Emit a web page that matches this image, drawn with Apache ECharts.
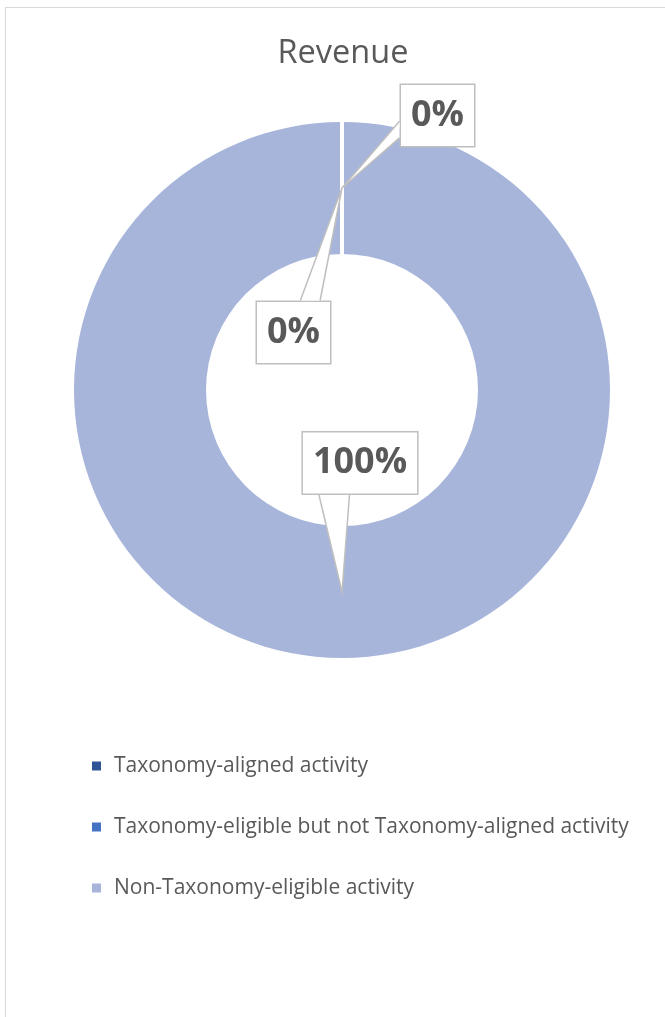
<!DOCTYPE html>
<html>
<head>
<meta charset="utf-8">
<script src="https://cdn.jsdelivr.net/npm/echarts@6/dist/echarts.min.js"></script>
<style>
  html, body { margin: 0; padding: 0; background: #fff; }
  #wrap { position: relative; width: 665px; height: 1017px; overflow: hidden; }
  #frame { position: absolute; left: 5px; top: 7px; width: 700px; height: 1100px;
           border-top: 1.5px solid #D9D9D9; border-left: 1.5px solid #D9D9D9; box-sizing: border-box; }
  #chart { position: absolute; left: 0; top: 0; width: 665px; height: 1017px; }
</style>
</head>
<body>
<div id="wrap">
  <div id="frame"></div>
  <div id="chart"></div>
</div>
<script>
// Revenue split by EU Taxonomy category
const categories = [
  'Taxonomy-aligned activity',
  'Taxonomy-eligible but not Taxonomy-aligned activity',
  'Non-Taxonomy-eligible activity'
];
const revenueShare = [0, 0, 100];
const sliceColors = ['#2F5597', '#4472C4', '#A8B5DB'];

// ring geometry
const CX = 342, CY = 390, R_IN = 136, R_OUT = 268;
// where each callout box sits, relative to the point it references
const calloutOffset = [
  [95.5, -72.5],
  [-48.5, 144.5],
  [18, -129]
];

const chart = echarts.init(document.getElementById('chart'), null, { renderer: 'canvas' });

const total = revenueShare.reduce((a, b) => a + b, 0);
// angle (radians, screen coords) of the middle of each slice, starting at 12 o'clock clockwise
function midAngles() {
  let acc = 0;
  return revenueShare.map(v => {
    const start = acc;
    acc += total ? v / total * 2 * Math.PI : 0;
    return -Math.PI / 2 + (start + acc) / 2;
  });
}
const mids = midAngles();

// speech-bubble style callout: box placed near the slice, wedge pointing back at it
function calloutLayout(params) {
  const i = params.dataIndex;
  const a = mids[i];
  const rMid = (R_IN + R_OUT) / 2;
  const tx = CX + rMid * Math.cos(a);
  const ty = CY + rMid * Math.sin(a);
  const bx = tx + calloutOffset[i][0];
  const by = ty + calloutOffset[i][1];
  const w = params.labelRect.width / 2;
  const h = params.labelRect.height / 2;
  const dx = tx - bx, dy = ty - by;
  let p1, p2;
  if (Math.abs(dy) / h > Math.abs(dx) / w) {
    // wedge leaves from the top or bottom edge
    const ey = by + Math.sign(dy) * h;
    const c = bx + Math.sign(dx) * 0.22 * 2 * w;
    const half = 0.13 * 2 * w;
    p1 = [c - half, ey]; p2 = [c + half, ey];
  } else {
    // wedge leaves from the left or right edge
    const ex = bx + Math.sign(dx) * w;
    const c = by + Math.sign(dy) * 0.22 * 2 * h;
    const half = 0.13 * 2 * h;
    p1 = [ex, c - half]; p2 = [ex, c + half];
  }
  return {
    x: bx, y: by, align: 'center', verticalAlign: 'middle',
    labelLinePoints: [p1, [tx, ty], p2]
  };
}

chart.setOption({
  animation: false,
  title: {
    text: 'Revenue',
    left: 338,
    top: 32,
    textAlign: 'center',
    textStyle: { fontFamily: 'Open Sans', fontSize: 32.5, fontWeight: 'normal', color: '#595959' }
  },
  color: sliceColors,
  legend: {
    orient: 'vertical',
    left: 92,
    top: 755,
    padding: 0,
    itemWidth: 9,
    itemHeight: 9,
    itemGap: 39,
    icon: 'rect',
    data: categories,
    textStyle: {
      fontFamily: 'Open Sans', fontSize: 21, color: '#595959',
      lineHeight: 22, padding: [0, 0, 0, 8]
    }
  },
  series: [{
    type: 'pie',
    z: 2,
    center: [CX, CY],
    radius: [R_IN, R_OUT],
    startAngle: 90,
    clockwise: true,
    avoidLabelOverlap: false,
    data: categories.map((name, i) => ({ name, value: revenueShare[i] })),
    itemStyle: { borderWidth: 0 },
    label: {
      show: true,
      position: 'outside',
      formatter: '{d}%',
      fontFamily: 'Open Sans',
      fontWeight: 'bold',
      fontSize: 36,
      lineHeight: 40,
      color: '#595959',
      backgroundColor: '#fff',
      borderColor: '#BFBFBF',
      borderWidth: 1.5,
      padding: [11, 10, 10, 10]
    },
    labelLine: {
      show: true,
      showAbove: true,
      lineStyle: { color: '#BFBFBF', width: 1.5 }
    },
    labelLayout: calloutLayout,
    emphasis: { disabled: true }
  }, {
    // slice separators: white outlines of the same slices drawn over the ring
    type: 'pie',
    z: 2,
    silent: true,
    center: [CX, CY],
    radius: [R_IN, R_OUT],
    startAngle: 90,
    clockwise: true,
    data: categories.map((name, i) => ({
      name,
      value: revenueShare[i],
      itemStyle: { borderWidth: revenueShare[i] === 0 ? 4 : 0 }
    })),
    itemStyle: { color: 'rgba(0,0,0,0)', borderColor: '#fff' },
    label: { show: false },
    labelLine: { show: false },
    emphasis: { disabled: true },
    tooltip: { show: false }
  }]
});

// callout wedges: white-filled and stacked above the ring, with the boxes above them
const zr = chart.getZr();
zr.storage.getDisplayList(true).forEach(el => {
  if (el.type === 'polyline') {
    el.setStyle('fill', '#fff');
    el.z2 = 50;
    el.markRedraw();
  } else if (el.type === 'text') {
    el.z2 = 60;
    el.markRedraw();
  }
});
zr.refreshImmediately();
</script>
</body>
</html>
